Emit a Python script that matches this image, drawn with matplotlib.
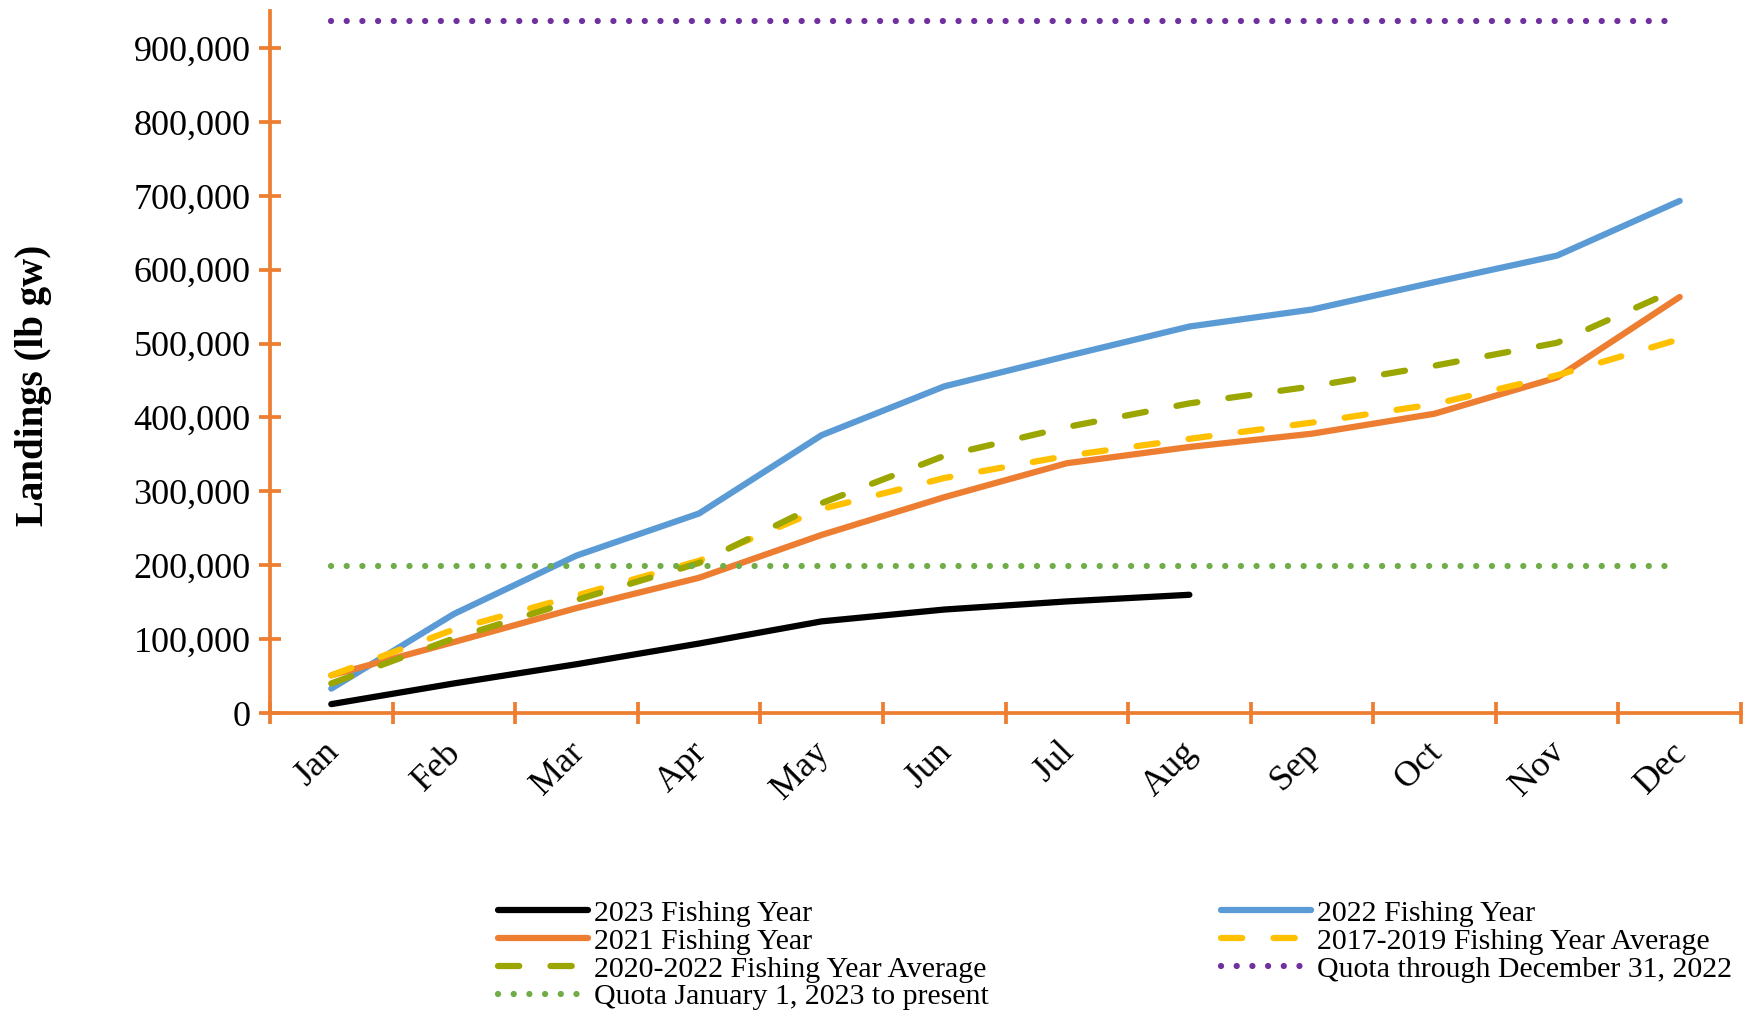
import matplotlib
matplotlib.use('Agg')
import matplotlib.pyplot as plt
import matplotlib.transforms as mtransforms
from matplotlib.ticker import FuncFormatter

# Monthly cumulative landings (lb gw)
months = ['Jan', 'Feb', 'Mar', 'Apr', 'May', 'Jun', 'Jul', 'Aug', 'Sep', 'Oct', 'Nov', 'Dec']
fy2023 = [12000, 40000, 66000, 94000, 124000, 140000, 151000, 160000]
fy2022 = [33000, 134000, 213000, 270000, 376000, 442000, 483000, 523000, 546000, 583000, 619000, 693000]
fy2021 = [51000, 96000, 142000, 183000, 241000, 292000, 338000, 360000, 378000, 405000, 454000, 563000]
avg_2017_2019 = [51000, 113000, 159000, 206000, 276000, 318000, 348000, 371000, 393000, 418000, 457000, 506000]
avg_2020_2022 = [40000, 101000, 153000, 203000, 284000, 348000, 387000, 419000, 442000, 470000, 501000, 575000]
quota_2022 = 937000
quota_2023 = 199000

plt.rcParams['font.family'] = ['Liberation Serif', 'DejaVu Serif']

fig = plt.figure(figsize=(17.48, 10.21), dpi=100)
ax = fig.add_axes([270 / 1748, 1 - 713 / 1021, (1741 - 270) / 1748, (713 - 11) / 1021])

x = list(range(len(months)))
lw = 4.5

l_2022, = ax.plot(x, fy2022, color='#5B9BD5', lw=lw, solid_capstyle='round', label='2022 Fishing Year')
l_2021, = ax.plot(x, fy2021, color='#ED7D31', lw=lw, solid_capstyle='round', label='2021 Fishing Year')
l_1719, = ax.plot(x, avg_2017_2019, color='#FFC000', lw=lw, dashes=(3.4, 5.0), dash_capstyle='round',
                  label='2017-2019 Fishing Year Average')
l_2022avg, = ax.plot(x, avg_2020_2022, color='#9BA600', lw=lw, dashes=(3.4, 5.0), dash_capstyle='round',
                     label='2020-2022 Fishing Year Average')
l_2023, = ax.plot(x[:len(fy2023)], fy2023, color='black', lw=lw, solid_capstyle='round', label='2023 Fishing Year')
l_q23, = ax.plot(x, [quota_2023] * len(x), color='#70AD47', lw=lw, dashes=(0.01, 2.5), dash_capstyle='round',
                 label='Quota January 1, 2023 to present')
l_q22, = ax.plot(x, [quota_2022] * len(x), color='#7030A0', lw=lw, dashes=(0.01, 2.5), dash_capstyle='round',
                 label='Quota through December 31, 2022')

ax.set_xlim(-0.5, len(months) - 0.5)
ax.set_ylim(0, 950000)

axis_color = '#ED7D31'
for side in ['top', 'right']:
    ax.spines[side].set_visible(False)
for side in ['left', 'bottom']:
    ax.spines[side].set_color(axis_color)
    ax.spines[side].set_linewidth(2.7)

# y axis
ax.set_yticks(range(0, 1000000, 100000))
ax.yaxis.set_major_formatter(FuncFormatter(lambda v, p: f'{int(v):,}'))
ax.tick_params(axis='y', direction='inout', length=16, width=2.7, color=axis_color,
               labelsize=26, pad=6)

# x axis: ticks between categories, labels at centres
ax.set_xticks([i - 0.5 for i in range(len(months) + 1)])
ax.set_xticklabels([])
ax.set_xticks(x, minor=True)
ax.set_xticklabels(months, minor=True, rotation=45, ha='right', va='top', rotation_mode='anchor')
ax.tick_params(axis='x', which='major', direction='inout', length=16, width=2.7, color=axis_color)
ax.tick_params(axis='x', which='minor', length=0, labelsize=26, pad=20)

# nudge the month labels a little left and up
shift = mtransforms.ScaledTranslation(-9 / 100, 5 / 100, fig.dpi_scale_trans)
for lab in ax.get_xticklabels(minor=True):
    lab.set_transform(lab.get_transform() + shift)

ax.set_ylabel('Landings (lb gw)', fontsize=28, fontweight='bold')
ax.yaxis.set_label_coords(-0.148, 0.467)

handles = [l_2023, l_2021, l_2022avg, l_q23, l_2022, l_1719, l_q22]
fig.legend(handles=handles, labels=[h.get_label() for h in handles], ncol=2,
           loc='upper left', bbox_to_anchor=(498 / 1748, 1 - 900 / 1021),
           frameon=False, fontsize=21.5, handlelength=3.0, handletextpad=0.2,
           labelspacing=0.03, columnspacing=7.8, borderaxespad=0, borderpad=0)

fig.savefig('out.png', dpi=100)
